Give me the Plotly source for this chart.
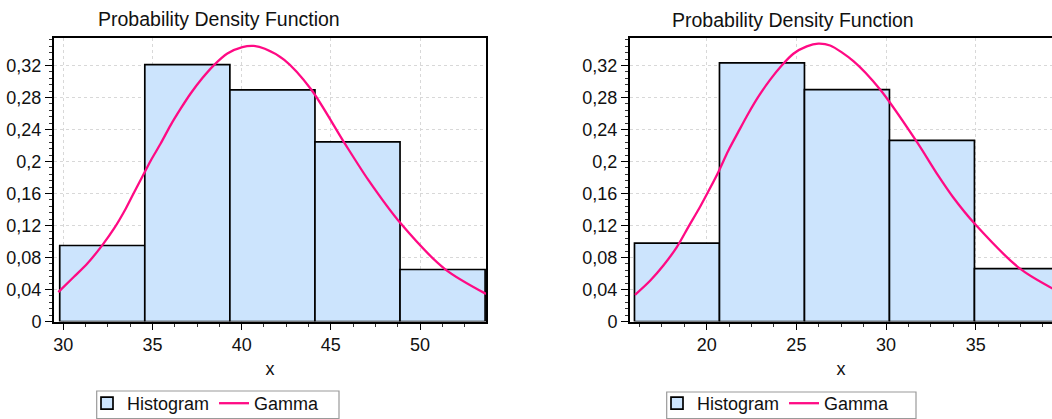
import plotly.graph_objects as go

# ---------------- data ----------------
left_edges = [29.8, 34.57, 39.34, 44.11, 48.88, 53.65]
left_heights = [0.095, 0.321, 0.2896, 0.2246, 0.065]
left_curve_x = [29.72, 30.60, 31.35, 32.19, 32.84, 33.50, 33.96, 34.43, 34.90, 35.46, 36.02,
                36.58, 37.14, 37.79, 38.45, 39.20, 40.04, 40.65, 41.3, 42.39, 43.9, 45.77,
                47.1, 48.9, 51.4, 53.7]
left_curve_y = [0.0368, 0.0559, 0.0725, 0.0955, 0.116, 0.141, 0.161, 0.181, 0.201, 0.2225,
                0.2455, 0.266, 0.285, 0.304, 0.3205, 0.335, 0.343, 0.3445, 0.341, 0.327,
                0.290, 0.223, 0.177, 0.123, 0.0655, 0.0345]

right_edges = [15.97, 20.71, 25.45, 30.19, 34.93, 39.67]
right_heights = [0.0979, 0.3234, 0.2898, 0.2264, 0.066]
right_curve_x = [16.0, 16.84, 17.58, 18.33, 18.97, 19.63, 20.18, 20.65, 21.2, 21.76, 22.32,
                 22.88, 23.53, 24.18, 24.83, 25.58, 26.22, 26.88, 28.18, 29.67, 31.71, 32.92,
                 33.75, 34.96, 37.47, 39.3]
right_curve_y = [0.0333, 0.051, 0.070, 0.093, 0.118, 0.1434, 0.1665, 0.187, 0.2135,
                 0.237, 0.260, 0.281, 0.302, 0.320, 0.3347, 0.3439, 0.3473, 0.345, 0.3255,
                 0.290, 0.2248, 0.182, 0.155, 0.1218, 0.066, 0.041]

y_tickvals = [0, 0.04, 0.08, 0.12, 0.16, 0.2, 0.24, 0.28, 0.32]
y_ticktext = ["0", "0,04", "0,08", "0,12", "0,16", "0,2", "0,24", "0,28", "0,32"]

title_text = "Probability Density Function"
hist_name = "Histogram"
curve_name = "Gamma"

# ---------------- styles ----------------
W, H = 1052, 419
FONT = "Liberation Sans, Arial, sans-serif"
BAR_FILL = "#cce4fd"
CURVE = "#ff0a84"
TXT = "#111"


def px_x(p):
    return p / W


def px_y(p):
    return 1 - p / H


fig = go.Figure()

panels = [
    (left_edges, left_heights, left_curve_x, left_curve_y, "x", "y", "legend"),
    (right_edges, right_heights, right_curve_x, right_curve_y, "x2", "y2", "legend2"),
]
for edges, heights, cx, cy, xa, ya, lg in panels:
    centers = [(a + b) / 2 for a, b in zip(edges[:-1], edges[1:])]
    widths = [b - a for a, b in zip(edges[:-1], edges[1:])]
    fig.add_trace(go.Bar(x=centers, y=heights, width=widths, name=hist_name,
                         marker=dict(color=BAR_FILL, line=dict(color="black", width=1.7)),
                         xaxis=xa, yaxis=ya, legend=lg, hoverinfo="skip"))
    fig.add_trace(go.Scatter(x=cx, y=cy, mode="lines", name=curve_name,
                             line=dict(color=CURVE, width=2.3, shape="spline", smoothing=0.8),
                             xaxis=xa, yaxis=ya, legend=lg, hoverinfo="skip"))

common_x = dict(showgrid=True, gridcolor="#d8d8d8", griddash="dot", gridwidth=1,
                showline=True, linecolor="black", linewidth=2, automargin=False,
                ticks="outside", ticklen=6, tickwidth=1, tickcolor="black",
                dtick=5, tick0=0, zeroline=False,
                minor=dict(ticks="outside", ticklen=3, tickcolor="#333", dtick=1.25, tick0=0,
                           showgrid=False),
                tickfont=dict(family=FONT, size=18, color=TXT),
                title=dict(text="x", font=dict(family=FONT, size=18, color=TXT), standoff=8))
common_y = dict(showgrid=True, gridcolor="#d8d8d8", griddash="dot", gridwidth=1,
                showline=True, linecolor="black", linewidth=2, automargin=False,
                ticks="outside", ticklen=7, tickwidth=1, tickcolor="black",
                tickvals=y_tickvals, ticktext=y_ticktext, zeroline=False,
                range=[0, 0.355],
                minor=dict(ticks="outside", ticklen=3, tickcolor="#333", dtick=0.008, tick0=0,
                           showgrid=False),
                tickfont=dict(family=FONT, size=18, color=TXT))

ydom = [px_y(321.5), px_y(37.5)]

legend_common = dict(yanchor="top", xanchor="left", orientation="h", borderwidth=0,
                     bgcolor="rgba(0,0,0,0)", font=dict(family=FONT, size=18, color=TXT))

fig.update_layout(
    width=W, height=H,
    margin=dict(l=0, r=0, t=0, b=0, autoexpand=False),
    paper_bgcolor="white", plot_bgcolor="white",
    barmode="overlay",
    showlegend=True,
    xaxis=dict(common_x, domain=[px_x(54), px_x(486)], range=[29.479, 53.70], mirror=True,
               anchor="y"),
    yaxis=dict(common_y, domain=ydom, mirror=True, anchor="x"),
    xaxis2=dict(common_x, domain=[px_x(630), 1.0], range=[15.72, 15.72 + 422 / 17.93],
                mirror=True, anchor="y2"),
    yaxis2=dict(common_y, domain=ydom, mirror=False, anchor="x2"),
    legend=dict(legend_common, x=px_x(87), y=px_y(385)),
    legend2=dict(legend_common, x=px_x(657), y=px_y(385)),
    shapes=[
        dict(type="rect", xref="paper", yref="paper", x0=px_x(96.7), x1=px_x(339),
             y0=px_y(418.5), y1=px_y(391), line=dict(color="#9a9a9a", width=1.2),
             fillcolor="rgba(0,0,0,0)", layer="below"),
        dict(type="rect", xref="paper", yref="paper", x0=px_x(666.7), x1=px_x(916),
             y0=px_y(418.5), y1=px_y(392), line=dict(color="#9a9a9a", width=1.2),
             fillcolor="rgba(0,0,0,0)", layer="below"),
    ],
    annotations=[
        dict(text=title_text, xref="paper", yref="paper", x=px_x(219), y=px_y(19),
             xanchor="center", yanchor="middle", showarrow=False,
             font=dict(family=FONT, size=19.5, color=TXT)),
        dict(text=title_text, xref="paper", yref="paper", x=px_x(793), y=px_y(20),
             xanchor="center", yanchor="middle", showarrow=False,
             font=dict(family=FONT, size=19.5, color=TXT)),
    ],
)

fig.write_html("out.html", config={"displayModeBar": False},
               post_script="document.body.style.margin='0';document.body.style.overflow='hidden';")
